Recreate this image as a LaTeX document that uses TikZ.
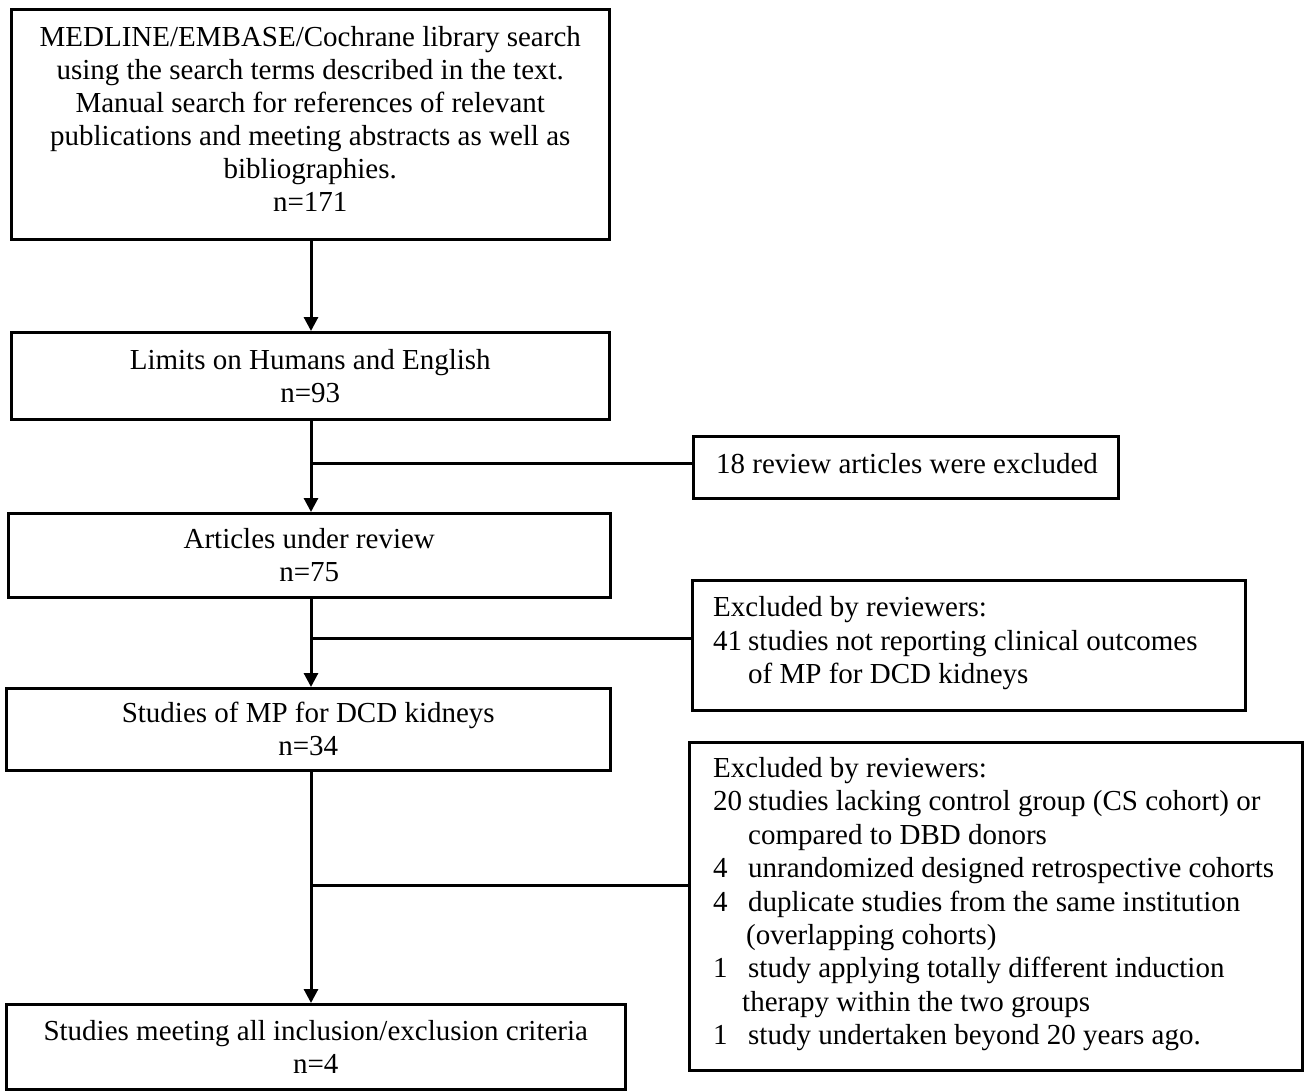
\documentclass[tikz,border=0pt]{standalone}
\usepackage{fontspec}
\setmainfont{Liberation Serif}
\usetikzlibrary{arrows.meta}
\newcommand\nbx[1]{\makebox[35pt][l]{#1}}
\begin{document}
\begin{tikzpicture}[x=1pt,y=-1pt,
  box/.style={draw, line width=2.5pt, inner sep=0pt, font=\fontsize{29}{33}\selectfont, align=center, anchor=north west},
  sidebox/.style={draw, line width=2.5pt, inner sep=0pt, anchor=north west},
  sidetext/.style={inner sep=0pt, font=\fontsize{29}{33.4}\selectfont, align=left, anchor=west},
  arr/.style={line width=3pt, -{Triangle[width=14pt,length=14pt]}},
  ln/.style={line width=3pt}]
\useasboundingbox (0,0) rectangle (1304,1090);
\node[box, minimum width=598, minimum height=230] (b1) at (10,8)
  {MEDLINE/EMBASE/Cochrane library search\\using the search terms described in the text.\\Manual search for references of relevant\\publications and meeting abstracts as well as\\bibliographies.\\n=171\\[-22pt]};
\node[box, minimum width=598, minimum height=87] (b2) at (10,331)
  {Limits on Humans and English\\n=93};
\node[box, minimum width=602, minimum height=84] (b3) at (7,512)
  {Articles under review\\n=75};
\node[box, minimum width=604, minimum height=82] (b4) at (5,687)
  {Studies of MP for DCD kidneys\\n=34};
\node[box, minimum width=619, minimum height=85] (b5) at (5,1003)
  {Studies meeting all inclusion/exclusion criteria\\n=4};
\node[sidebox, minimum width=425, minimum height=62] (r1) at (692,435) {};
\node[sidetext] (t1) at ([xshift=24pt,yshift=4pt]r1.west)
  {18 review articles were excluded};
\node[sidebox, minimum width=553, minimum height=130] (r2) at (691,579) {};
\node[sidetext] (t2) at ([xshift=22pt,yshift=2pt]r2.west)
  {Excluded by reviewers:\\\nbx{41}studies not reporting clinical outcomes\\\hspace*{35pt}of MP for DCD kidneys};
\node[sidebox, minimum width=613, minimum height=328] (r3) at (688,741) {};
\node[sidetext] (t3) at ([xshift=25pt,yshift=2pt]r3.west)
  {Excluded by reviewers:\\\nbx{20}studies lacking control group (CS cohort) or\\\hspace*{35pt}compared to DBD donors\\\nbx{4}unrandomized designed retrospective cohorts\\\nbx{4}duplicate studies from the same institution\\\hspace*{33pt}(overlapping cohorts)\\\nbx{1}study applying totally different induction\\\hspace*{29pt}therapy within the two groups\\\nbx{1}study undertaken beyond 20 years ago.};
\coordinate (j1) at (311,463);
\coordinate (j2) at (311,638);
\coordinate (j3) at (311,885);
\draw[arr] (b1.south -| j1) -- (b2.north -| j1);
\draw[arr] (b2.south -| j1) -- (b3.north -| j1);
\draw[arr] (b3.south -| j1) -- (b4.north -| j1);
\draw[arr] (b4.south -| j1) -- (b5.north -| j1);
\draw[ln] (j1) -- (j1 -| r1.west);
\draw[ln] (j2) -- (j2 -| r2.west);
\draw[ln] (j3) -- (j3 -| r3.west);
\end{tikzpicture}
\end{document}
